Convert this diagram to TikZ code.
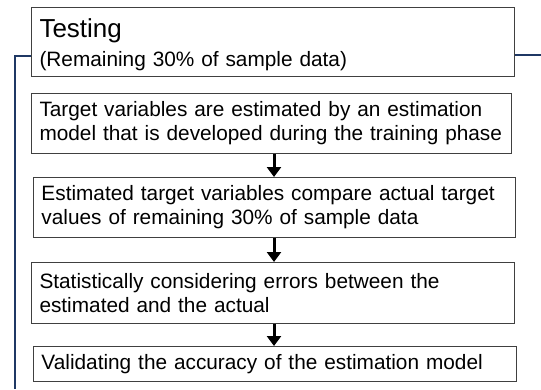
\documentclass[tikz,border=0pt]{standalone}
\usepackage{fontspec}
\setmainfont{Liberation Sans}
\usetikzlibrary{arrows.meta,calc}
\definecolor{boxgray}{HTML}{404040}
\definecolor{navyline}{HTML}{1F3864}
\begin{document}
\begin{tikzpicture}[x=1pt,y=-1pt,
  box/.style={draw=boxgray,line width=1pt,anchor=north west,align=left,
    inner xsep=8pt,inner ysep=0pt,text width=#1,
    font=\fontsize{20.8}{24}\selectfont},
  flowarrow/.style={line width=3pt,-{Triangle[width=14pt,length=10pt]}},
  bracket/.style={draw=navyline,line width=1.2pt}]
\useasboundingbox (0,0) rectangle (541,389);
% boxes
\node[box=467pt,minimum height=69pt] (B1) at (31,7)
  {{\fontsize{26}{30}\selectfont\rule{0pt}{24pt}Testing}\\[5pt]
   {\fontsize{20.8}{24}\selectfont (Remaining 30\% of sample data)}};
\node[box=464pt,minimum height=60pt] (B2) at (31,93)
  {Target variables are estimated by an estimation\\
   model that is developed during the training phase};
\node[box=466pt,minimum height=60pt] (B3) at (33,177)
  {Estimated target variables compare actual target\\
   values of remaining 30\% of sample data};
\node[box=467pt,minimum height=61pt] (B4) at (31,262)
  {Statistically considering errors between the\\
   estimated and the actual};
\node[box=467pt,minimum height=35pt] (B5) at (33,346)
  {Validating the accuracy of the estimation model};
% arrow axis
\coordinate (ax) at (274,0);
\draw[flowarrow] (B2.south -| ax) -- (B3.north -| ax);
\draw[flowarrow] (B3.south -| ax) -- (B4.north -| ax);
\draw[flowarrow] (B4.south -| ax) -- (B5.north -| ax);
% bracket lines
\coordinate (lh) at (0,56);
\coordinate (lb) at (15,389);
\coordinate (rh) at (541,55);
\draw[bracket] (B1.west |- lh) -| (lb);
\draw[bracket] (B1.east |- rh) -- (rh);
\end{tikzpicture}
\end{document}
